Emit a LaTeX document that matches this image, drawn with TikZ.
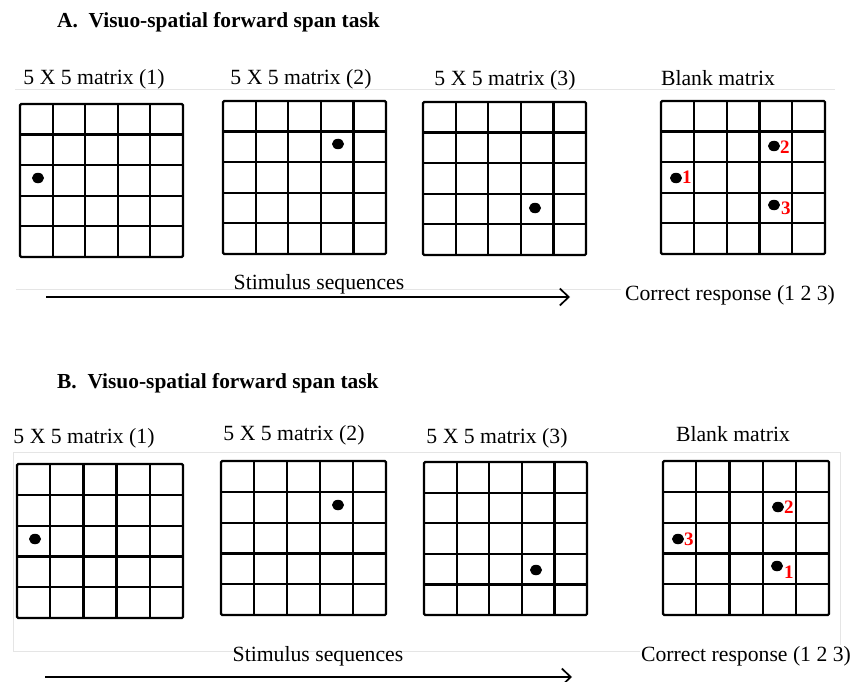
\documentclass[tikz,border=0pt]{standalone}
\usepackage{fontspec}
\setmainfont{Liberation Serif}
\usetikzlibrary{calc,arrows.meta,shapes.geometric}
\tikzset{
  gridbox/.style={draw, line width=2.2pt, rounded corners=1.2pt, outer sep=0pt, inner sep=0pt},
  gridline/.style={line width=2.2pt},
  dotmark/.style={ellipse, fill=black, inner sep=0pt, minimum width=12pt, minimum height=10.5pt},
  num/.style={text=red, font=\bfseries\fontsize{19}{19}\selectfont, inner sep=0pt, anchor=west},
  lab/.style={font=\fontsize{21.7}{25}\selectfont, inner sep=0pt, anchor=base},
  ttl/.style={font=\bfseries\fontsize{21.4}{24}\selectfont, inner sep=0pt, anchor=base west},
  faint/.style={draw=black!10, line width=1pt},
  seqarrow/.style={line width=2pt, -{Straight Barb[length=9pt,width=17pt,line width=1.7pt]}},
}
\newcommand\mgrid[5]{%
  \node[gridbox, minimum width={(#4-#2)*1pt}, minimum height={(#5-#3)*1pt}] (#1) at ({(#2+#4)/2},{(#3+#5)/2}) {};
  \foreach \k in {1,...,4}{
    \draw[gridline] ($(#1.north west)!\k/5!(#1.north east)$) -- ($(#1.south west)!\k/5!(#1.south east)$);
    \draw[gridline] ($(#1.north west)!\k/5!(#1.south west)$) -- ($(#1.north east)!\k/5!(#1.south east)$);
  }}
\begin{document}
\begin{tikzpicture}[x=1pt,y=-1pt]
\useasboundingbox (0,0) rectangle (854,682);
% faint background lines
\draw[faint] (15,90) -- (835,90);
\draw[faint] (16,289) -- (621,289);
\draw[faint] (13,452) rectangle (840,651);

% ---------- Panel A ----------
\node[ttl] (tA) at (57,28) {A.\ \ Visuo-spatial forward span task};
\node[lab] (la1) at (94,85) {5 X 5 matrix (1)};
\node[lab] (la2) at (301,85) {5 X 5 matrix (2)};
\node[lab] (la3) at (505,86) {5 X 5 matrix (3)};
\node[lab] (la4) at (718,86) {Blank matrix};

\mgrid{ga1}{20}{104}{183}{257}
\mgrid{ga2}{223}{101}{386}{254}
\mgrid{ga3}{423}{102}{586}{255}
\mgrid{ga4}{661}{101}{825}{254}

\node[dotmark] (da1) at (38,178) {};
\node[dotmark] (da2) at (338,144) {};
\node[dotmark] (da3) at (535,208) {};
\node[dotmark] (db1) at (676,178) {};
\node[dotmark] (db2) at (774,146) {};
\node[dotmark] (db3) at (774,205) {};
\node[num] (na1) at (682,177) {1};
\node[num] (na2) at (780,147) {2};
\node[num] (na3) at (781,208.5) {3};

\node[lab] (sa) at (319,289) {Stimulus sequences};
\node[lab, fill=white, inner sep=1pt] (ca) at (730,300) {Correct response (1 2 3)};
\coordinate (aa0) at (46,297);
\coordinate (aa1) at (570,297);
\draw[seqarrow] (aa0) -- (aa1);

% ---------- Panel B ----------
\node[ttl] (tB) at (57,388) {B.\ \ Visuo-spatial forward span task};
\node[lab] (lb1) at (84,443) {5 X 5 matrix (1)};
\node[lab] (lb2) at (294,440) {5 X 5 matrix (2)};
\node[lab] (lb3) at (497,443) {5 X 5 matrix (3)};
\node[lab] (lb4) at (733,441) {Blank matrix};

\mgrid{gb1}{17}{464}{183}{618}
\mgrid{gb2}{221}{461}{386}{615}
\mgrid{gb3}{424}{462}{587}{615}
\mgrid{gb4}{663}{461}{829}{615}

\node[dotmark] (eb1) at (35,539) {};
\node[dotmark] (eb2) at (338,505) {};
\node[dotmark] (eb3) at (536,570) {};
\node[dotmark] (fb3) at (678,539) {};
\node[dotmark] (fb2) at (778,507) {};
\node[dotmark] (fb1) at (777,566) {};
\node[num] (nb3) at (684,539.5) {3};
\node[num] (nb2) at (784,507) {2};
\node[num] (nb1) at (784,572) {1};

\node[lab] (sb) at (318,661) {Stimulus sequences};
\node[lab, fill=white, inner sep=1pt] (cb) at (746,661) {Correct response (1 2 3)};
\coordinate (ab0) at (45,677);
\coordinate (ab1) at (572,677);
\draw[seqarrow] (ab0) -- (ab1);
\end{tikzpicture}
\end{document}
